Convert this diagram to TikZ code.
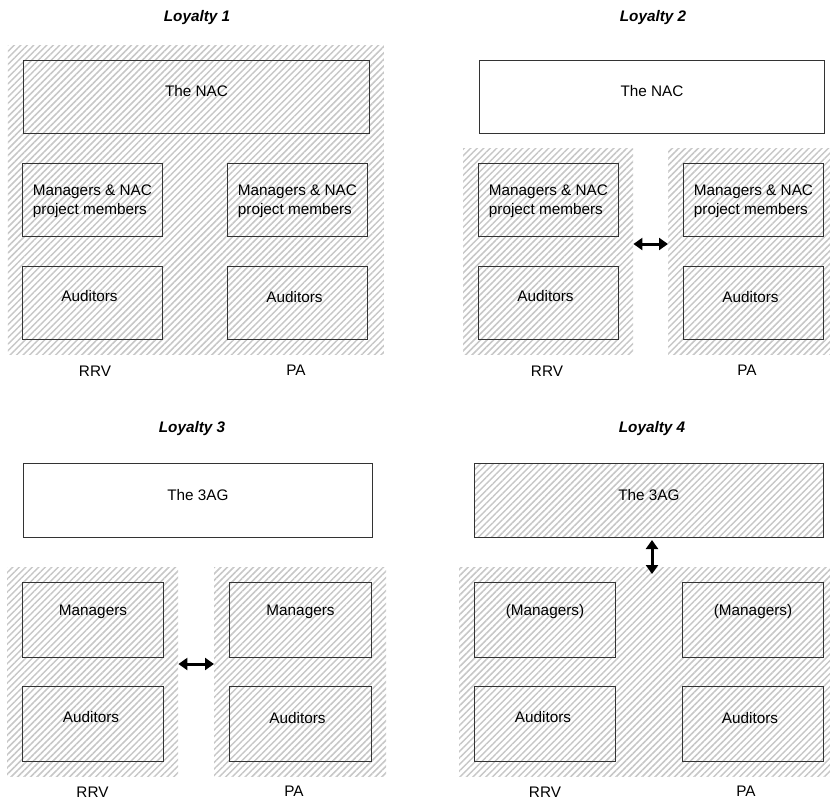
\documentclass[tikz,border=0pt]{standalone}
\usepackage{fontspec}
\setmainfont{Liberation Sans}
\usetikzlibrary{patterns.meta,arrows.meta}
\definecolor{hatchgray}{gray}{0.78}
\definecolor{boxline}{gray}{0.2}
\tikzset{
  hatch/.style={pattern={Lines[angle=45,distance=4.6pt,line width=1.5pt]},pattern color=hatchgray},
  bgbox/.style={hatch,draw=none,inner sep=0pt,anchor=north west},
  orgbox/.style={draw=boxline,line width=1pt,inner sep=0pt,anchor=north west},
  txt/.style={font=\fontsize{15.3}{18.5}\selectfont,inner sep=0pt,anchor=base},
  ttl/.style={font=\fontsize{15.3}{18.5}\selectfont\bfseries\itshape,inner sep=0pt,anchor=base},
  dbl/.style={line width=3pt,{Triangle[length=9pt,width=12pt]}-{Triangle[length=9pt,width=12pt]}}
}
\begin{document}
\begin{tikzpicture}[x=1pt,y=-1pt]
\useasboundingbox (0,0) rectangle (830,801);
% ---------- Loyalty 1 ----------
\node[ttl] (t1) at (197,21) {Loyalty 1};
\node[bgbox,minimum width=376pt,minimum height=309pt] (bg1) at (7,45) {};
\node[orgbox,minimum width=346pt,minimum height=73pt] (nac1) at (23,60) {};
\node[orgbox,minimum width=140pt,minimum height=73pt] (m1L) at (22,163) {};
\node[orgbox,minimum width=140pt,minimum height=73pt] (m1R) at (227,163) {};
\node[orgbox,minimum width=140pt,minimum height=73pt] (a1L) at (22,266) {};
\node[orgbox,minimum width=140pt,minimum height=73pt] (a1R) at (227,266) {};
\node[txt] (nac1t) at ([yshift=-36.5pt]nac1.north) {The NAC};
\node[txt,align=left] (m1Lt) at ([yshift=-51pt]m1L.north) {Managers \& NAC\\project members};
\node[txt,align=left] (m1Rt) at ([yshift=-51pt]m1R.north) {Managers \& NAC\\project members};
\node[txt] (a1Lt) at ([xshift=-3pt,yshift=-35.5pt]a1L.north) {Auditors};
\node[txt] (a1Rt) at ([xshift=-3pt,yshift=-36.5pt]a1R.north) {Auditors};
\node[txt] (r1) at (95,376.5) {RRV};
\node[txt] (p1) at (296,375.5) {PA};
% ---------- Loyalty 2 ----------
\node[ttl] (t2) at (653,21) {Loyalty 2};
\node[orgbox,fill=white,minimum width=345pt,minimum height=73pt] (nac2) at (479,60) {};
\node[bgbox,minimum width=170pt,minimum height=206pt] (bg2L) at (463,148) {};
\node[bgbox,minimum width=170pt,minimum height=206pt] (bg2R) at (668,148) {};
\node[orgbox,minimum width=140pt,minimum height=73pt] (m2L) at (478,163) {};
\node[orgbox,minimum width=140pt,minimum height=73pt] (m2R) at (683,163) {};
\node[orgbox,minimum width=140pt,minimum height=73pt] (a2L) at (478,266) {};
\node[orgbox,minimum width=140pt,minimum height=73pt] (a2R) at (683,266) {};
\node[txt] (nac2t) at ([yshift=-36.5pt]nac2.north) {The NAC};
\node[txt,align=left] (m2Lt) at ([yshift=-51pt]m2L.north) {Managers \& NAC\\project members};
\node[txt,align=left] (m2Rt) at ([yshift=-51pt]m2R.north) {Managers \& NAC\\project members};
\node[txt] (a2Lt) at ([xshift=-3pt,yshift=-35.5pt]a2L.north) {Auditors};
\node[txt] (a2Rt) at ([xshift=-3pt,yshift=-36.5pt]a2R.north) {Auditors};
\node[txt] (r2) at (547,376.5) {RRV};
\node[txt] (p2) at (747,375.5) {PA};
\coordinate (ar2) at (650,244);
\draw[dbl] (bg2L.east |- ar2) -- (bg2R.west |- ar2);
% ---------- Loyalty 3 ----------
\node[ttl] (t3) at (192,432) {Loyalty 3};
\node[orgbox,fill=white,minimum width=349pt,minimum height=74pt] (g3) at (23,463) {};
\node[bgbox,minimum width=171pt,minimum height=209pt] (bg3L) at (7,567) {};
\node[bgbox,minimum width=172pt,minimum height=209pt] (bg3R) at (214,567) {};
\node[orgbox,minimum width=141pt,minimum height=75pt] (m3L) at (22,582) {};
\node[orgbox,minimum width=142pt,minimum height=75pt] (m3R) at (229,582) {};
\node[orgbox,minimum width=141pt,minimum height=75pt] (a3L) at (22,686) {};
\node[orgbox,minimum width=142pt,minimum height=75pt] (a3R) at (229,686) {};
\node[txt] (g3t) at ([yshift=-37pt]g3.north) {The 3AG};
\node[txt] (m3Lt) at ([yshift=-33.5pt]m3L.north) {Managers};
\node[txt] (m3Rt) at ([yshift=-33.5pt]m3R.north) {Managers};
\node[txt] (a3Lt) at ([xshift=-2pt,yshift=-36pt]a3L.north) {Auditors};
\node[txt] (a3Rt) at ([xshift=-3pt,yshift=-37pt]a3R.north) {Auditors};
\node[txt] (r3) at (92.5,797.5) {RRV};
\node[txt] (p3) at (294,796.5) {PA};
\coordinate (ar3) at (196,664);
\draw[dbl] (bg3L.east |- ar3) -- (bg3R.west |- ar3);
% ---------- Loyalty 4 ----------
\node[ttl] (t4) at (652,432) {Loyalty 4};
\node[orgbox,hatch,minimum width=349pt,minimum height=74pt] (g4) at (474,463) {};
\node[bgbox,minimum width=379pt,minimum height=209pt] (bg4) at (459,567) {};
\node[orgbox,minimum width=141pt,minimum height=75pt] (m4L) at (474,582) {};
\node[orgbox,minimum width=141pt,minimum height=75pt] (m4R) at (682,582) {};
\node[orgbox,minimum width=141pt,minimum height=75pt] (a4L) at (474,686) {};
\node[orgbox,minimum width=141pt,minimum height=75pt] (a4R) at (682,686) {};
\node[txt] (g4t) at ([yshift=-37pt]g4.north) {The 3AG};
\node[txt] (m4Lt) at ([yshift=-33.5pt]m4L.north) {(Managers)};
\node[txt] (m4Rt) at ([yshift=-33.5pt]m4R.north) {(Managers)};
\node[txt] (a4Lt) at ([xshift=-2pt,yshift=-36pt]a4L.north) {Auditors};
\node[txt] (a4Rt) at ([xshift=-3pt,yshift=-37pt]a4R.north) {Auditors};
\node[txt] (r4) at (545,797.5) {RRV};
\node[txt] (p4) at (746,796.5) {PA};
\coordinate (ar4) at (652,574);
\draw[dbl] ([yshift=-2pt]g4.south -| ar4) -- (ar4);
\end{tikzpicture}
\end{document}
